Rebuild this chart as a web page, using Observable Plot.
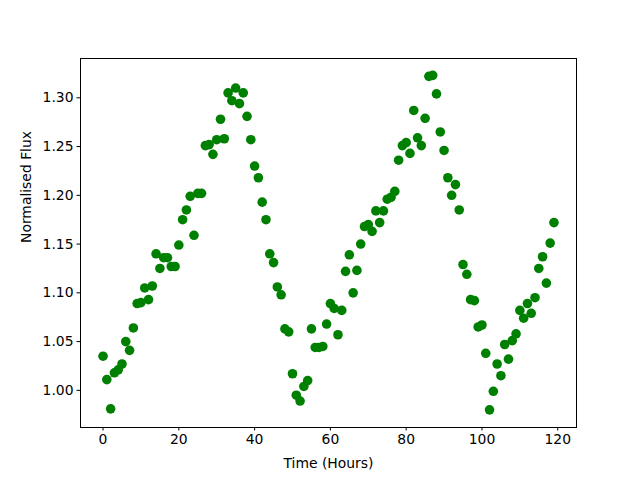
<!DOCTYPE html>
<html>
<head>
<meta charset="utf-8">
<script src="https://cdn.jsdelivr.net/npm/d3@7"></script>
<script src="https://cdn.jsdelivr.net/npm/@observablehq/plot@0.6"></script>
<style>
  html, body { margin: 0; padding: 0; background: #fff; }
</style>
</head>
<body>
<div id="chart"></div>
<script>
const hours = d3.range(0, 120);
const flux = [
  1.035, 1.011, 0.981, 1.018, 1.021, 1.027, 1.050, 1.041, 1.064, 1.089,
  1.090, 1.105, 1.093, 1.107, 1.140, 1.125, 1.136, 1.136, 1.127, 1.127,
  1.149, 1.175, 1.185, 1.199, 1.159, 1.202, 1.202, 1.251, 1.252, 1.242,
  1.257, 1.278, 1.258, 1.305, 1.297, 1.310, 1.294, 1.305, 1.281, 1.257,
  1.230, 1.218, 1.193, 1.175, 1.140, 1.131, 1.106, 1.098, 1.063, 1.060,
  1.017, 0.995, 0.989, 1.004, 1.010, 1.063, 1.044, 1.044, 1.045, 1.068,
  1.089, 1.084, 1.057, 1.082, 1.122, 1.139, 1.100, 1.123, 1.150, 1.168,
  1.170, 1.163, 1.184, 1.172, 1.184, 1.196, 1.198, 1.204, 1.236, 1.251,
  1.254, 1.243, 1.287, 1.259, 1.251, 1.279, 1.322, 1.323, 1.304, 1.265,
  1.246, 1.218, 1.200, 1.211, 1.185, 1.129, 1.119, 1.093, 1.092, 1.065,
  1.067, 1.038, 0.980, 0.999, 1.027, 1.015, 1.047, 1.032, 1.051, 1.058,
  1.082, 1.074, 1.089, 1.079, 1.095, 1.125, 1.137, 1.110, 1.151, 1.172
];
const xTicks = [0, 20, 40, 60, 80, 100, 120];
const yTicks = [1.00, 1.05, 1.10, 1.15, 1.20, 1.25, 1.30];
const xTitle = "Time (Hours)";
const yTitle = "Normalised Flux";

const data = hours.map((h, i) => ({ t: h, f: flux[i] }));

const plot = Plot.plot({
  width: 640,
  height: 480,
  marginLeft: 80,
  marginRight: 64,
  marginTop: 58,
  marginBottom: 53,
  style: { fontFamily: "DejaVu Sans", fontSize: "13.9px", color: "#000", background: "#fff" },
  x: { domain: [-5.95, 124.95], ticks: xTicks, tickFormat: d => String(d), label: null },
  y: { domain: [0.9619, 1.3403], ticks: yTicks, tickFormat: d => d.toFixed(2), label: null },
  marks: [
    Plot.axisX({ ticks: xTicks, tickSize: 3.5, tickPadding: 3.5, tickFormat: d => String(d), label: null, fontSize: "13.9px" }),
    Plot.axisY({ ticks: yTicks, tickSize: 3.5, tickPadding: 3.5, tickFormat: d => d.toFixed(2), label: null, fontSize: "13.9px" }),
    Plot.dot(data, { x: "t", y: "f", r: 4.8, fill: "#008000", stroke: "none" }),
    Plot.frame({ stroke: "#000", strokeWidth: 1 }),
    Plot.text([xTitle], { frameAnchor: "bottom", dy: 36, text: d => d, fontSize: 13.9, lineAnchor: "middle", fill: "#000" }),
    Plot.text([yTitle], { frameAnchor: "left", dx: -54, rotate: -90, text: d => d, fontSize: 13.9, lineAnchor: "middle", fill: "#000" })
  ]
});
document.getElementById("chart").appendChild(plot);
</script>
</body>
</html>
